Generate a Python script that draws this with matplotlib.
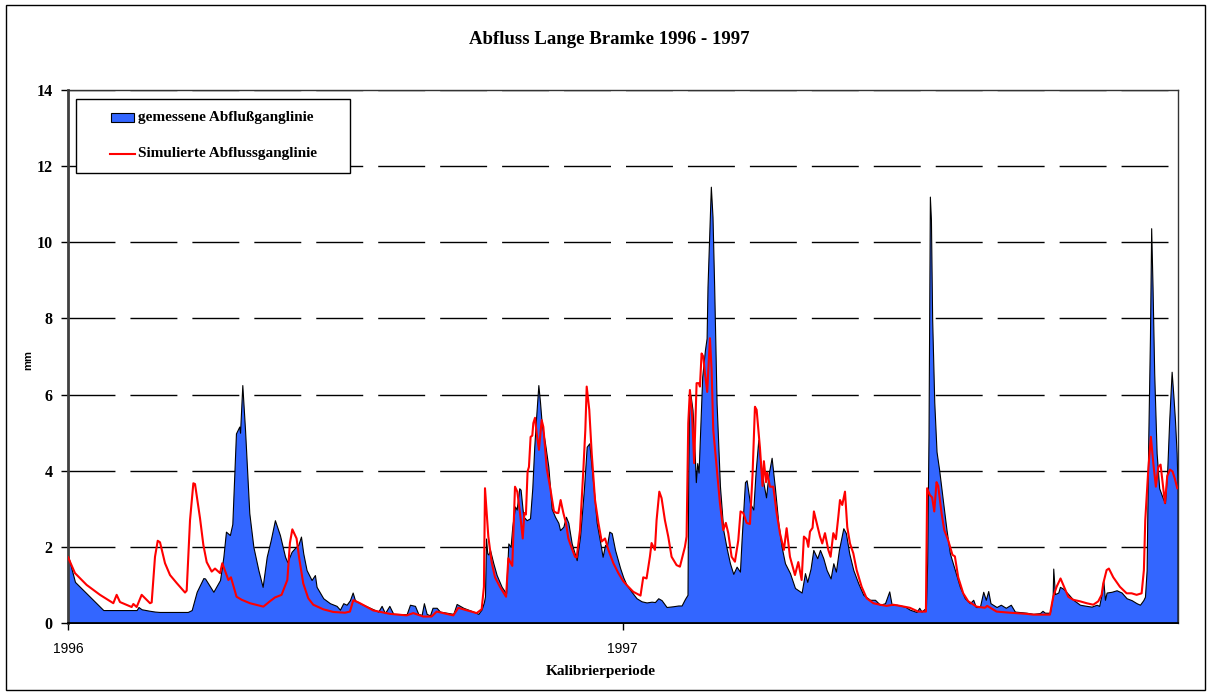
import numpy as np
import matplotlib.pyplot as plt
from matplotlib.patches import Rectangle
from matplotlib.lines import Line2D

# Tageswerte ab 1.1.1996 (Tag, Abfluss in mm)
gemessen = [
    (0, 1.78), (4.6, 1.08), (23.3, 0.34), (45.3, 0.34), (46.5, 0.42), (48.6, 0.36),
    (54.1, 0.32), (57.4, 0.30), (60.5, 0.29), (79.0, 0.29), (81.6, 0.34), (84.9, 0.82),
    (89.3, 1.18), (90.4, 1.17), (95.9, 0.82), (100.3, 1.13), (102.5, 1.74), (104.2, 2.40),
    (106.8, 2.31), (108.4, 2.6), (110.8, 4.98), (113.0, 5.16), (113.5, 5.0), (115.0, 6.25),
    (116.8, 5.07), (119.6, 2.89), (122.3, 2.0), (125.6, 1.39), (128.4, 0.95), (131.1, 1.74),
    (133.7, 2.17), (136.5, 2.7), (139.8, 2.31), (143.2, 1.74), (144.7, 1.6), (147.5, 1.87),
    (149.7, 1.97), (151.9, 2.05), (153.7, 2.27), (155.2, 1.83), (157.4, 1.39), (160.7, 1.13),
    (162.9, 1.26), (164.0, 0.95), (168.4, 0.65), (172.8, 0.52), (177.2, 0.45), (179.4, 0.35),
    (181.6, 0.52), (183.8, 0.48), (186.0, 0.6), (187.8, 0.8), (189.3, 0.6), (192.6, 0.52),
    (199.2, 0.4), (204.7, 0.3), (206.9, 0.45), (209.1, 0.26), (212.0, 0.45), (214.6, 0.24),
    (223.4, 0.23), (225.6, 0.48), (228.9, 0.45), (231.1, 0.24), (233.3, 0.21), (234.8, 0.52),
    (236.6, 0.24), (238.8, 0.2), (240.5, 0.4), (243.2, 0.4), (245.4, 0.3), (254.2, 0.24),
    (256.4, 0.5), (260.8, 0.4), (267.4, 0.3), (270.7, 0.24), (272.9, 0.36), (274.4, 0.55),
    (275.1, 0.7), (275.8, 2.22), (276.6, 1.83), (277.3, 1.8), (278.4, 1.92), (280.6, 1.57),
    (282.8, 1.26), (286.1, 0.95), (289.0, 0.78), (290.5, 2.09), (292.0, 2.0), (293.1, 2.53),
    (294.9, 3.06), (296.0, 2.98), (297.7, 3.54), (298.6, 3.5), (300.4, 2.79), (301.5, 2.75),
    (302.6, 2.7), (304.8, 2.75), (306.3, 3.54), (307.6, 4.63), (308.7, 5.33), (310.3, 6.25),
    (311.4, 5.8), (312.5, 5.25), (314.7, 4.72), (316.9, 4.1), (319.1, 3.0), (321.3, 2.79),
    (323.5, 2.63), (324.6, 2.44), (326.8, 2.53), (328.5, 2.79), (330.1, 2.63), (332.3, 2.09),
    (335.6, 1.65), (337.8, 2.27), (340.4, 3.54), (342.2, 4.63), (343.9, 4.72), (346.6, 3.62),
    (348.8, 2.63), (351.0, 2.14), (352.7, 1.74), (354.3, 2.05), (355.4, 2.0), (357.1, 2.4),
    (358.7, 2.36), (360.9, 1.92), (364.2, 1.45), (366.3, 1.2), (368.5, 1.0), (371.8, 0.82),
    (375.1, 0.65), (378.4, 0.57), (381.7, 0.54), (385.0, 0.56), (387.2, 0.55), (389.4, 0.65),
    (391.6, 0.6), (394.9, 0.42), (399.3, 0.44), (402.6, 0.46), (404.8, 0.46), (407.0, 0.63),
    (408.7, 0.74), (409.2, 4.03), (409.8, 5.77), (410.7, 5.99), (412.0, 5.6), (413.6, 4.3),
    (414.2, 3.7), (415.1, 4.2), (416.0, 3.95), (416.9, 4.89), (418.4, 6.47), (420.2, 7.17),
    (421.3, 7.48), (421.9, 8.83), (423.0, 10.15), (424.1, 11.46), (425.2, 10.67), (426.3, 8.83),
    (427.9, 5.77), (430.1, 3.6), (432.3, 2.44), (434.5, 1.97), (436.7, 1.57), (438.9, 1.29),
    (441.1, 1.48), (443.3, 1.35), (444.4, 2.2), (446.6, 3.7), (447.7, 3.75), (449.9, 3.15),
    (452.1, 2.98), (453.6, 3.95), (455.4, 4.81), (457.0, 4.1), (458.7, 3.7), (460.5, 3.3),
    (462.0, 3.86), (464.2, 4.34), (466.4, 3.54), (468.6, 2.63), (470.8, 2.0), (473.0, 1.57),
    (476.3, 1.31), (479.6, 0.92), (484.0, 0.8), (486.2, 1.31), (487.7, 1.08), (489.9, 1.43),
    (491.7, 1.92), (494.3, 1.7), (496.1, 1.92), (498.3, 1.7), (500.5, 1.39), (503.1, 1.17),
    (504.9, 1.57), (506.6, 1.35), (508.6, 1.92), (511.5, 2.49), (513.2, 2.36), (515.4, 1.83),
    (518.1, 1.39), (521.4, 1.04), (524.7, 0.74), (529.1, 0.61), (532.4, 0.61), (535.7, 0.48),
    (539.0, 0.52), (541.8, 0.83), (543.4, 0.48), (546.7, 0.48), (552.2, 0.43), (555.4, 0.35),
    (559.8, 0.29), (561.6, 0.4), (563.1, 0.3), (566.0, 0.4), (566.8, 1.57), (567.7, 4.89),
    (568.6, 11.2), (569.3, 10.6), (570.1, 8.0), (571.5, 5.8), (573.0, 4.5), (574.7, 4.03),
    (577.4, 3.15), (579.6, 2.44), (581.8, 1.83), (585.1, 1.39), (588.4, 0.95), (591.7, 0.65),
    (595.0, 0.52), (597.2, 0.61), (598.9, 0.42), (601.6, 0.42), (603.8, 0.82), (605.5, 0.61),
    (607.1, 0.84), (608.6, 0.52), (612.6, 0.42), (615.4, 0.48), (618.7, 0.4), (622.0, 0.48),
    (624.7, 0.3), (632.4, 0.27), (636.8, 0.24), (641.2, 0.26), (642.9, 0.32), (644.5, 0.27),
    (647.8, 0.27), (649.6, 0.69), (650.0, 1.43), (651.1, 0.76), (653.3, 0.8), (654.4, 0.95),
    (656.6, 0.9), (659.9, 0.76), (663.2, 0.61), (667.6, 0.48), (672.0, 0.45), (675.3, 0.43),
    (678.6, 0.48), (680.3, 0.45), (681.9, 0.76), (683.0, 1.13), (684.1, 0.61), (685.2, 0.8),
    (688.5, 0.82), (691.8, 0.86), (695.1, 0.8), (698.4, 0.65), (701.7, 0.6), (705.0, 0.52),
    (707.2, 0.48), (709.4, 0.6), (710.5, 0.69), (711.6, 1.39), (712.7, 4.89), (713.8, 7.52),
    (714.6, 10.37), (715.5, 8.83), (716.6, 6.56), (718.2, 4.46), (719.9, 3.54), (722.1, 3.3),
    (723.7, 3.15), (725.2, 4.03), (726.5, 5.33), (728.1, 6.6), (729.2, 6.0), (730.3, 5.33),
    (731.4, 4.46), (732.0, 3.6),
]

simuliert = [
    (0, 1.73), (4.6, 1.31), (12.3, 1.0), (21.1, 0.74), (29.9, 0.52), (32.1, 0.74),
    (34.3, 0.55), (42.0, 0.42), (43.1, 0.5), (45.3, 0.42), (48.6, 0.74), (54.1, 0.52),
    (55.2, 0.54), (57.4, 1.74), (59.2, 2.16), (60.7, 2.12), (64.0, 1.57), (67.3, 1.26),
    (71.7, 1.05), (77.2, 0.8), (78.3, 0.85), (80.5, 2.7), (82.7, 3.67), (83.8, 3.65),
    (87.1, 2.75), (89.3, 2.05), (91.5, 1.6), (94.8, 1.35), (97.0, 1.43), (100.3, 1.31),
    (101.8, 1.57), (105.8, 1.13), (107.5, 1.2), (111.2, 0.69), (114.6, 0.61), (120.0, 0.52),
    (128.9, 0.43), (133.2, 0.57), (136.5, 0.67), (140.9, 0.74), (144.7, 1.13), (146.4, 2.1),
    (148.0, 2.46), (150.8, 2.22), (152.4, 1.74), (155.2, 1.04), (158.5, 0.65), (161.8, 0.48),
    (168.4, 0.36), (175.0, 0.29), (182.7, 0.27), (186.0, 0.3), (188.2, 0.6), (192.6, 0.52),
    (201.4, 0.33), (212.4, 0.24), (223.4, 0.2), (227.8, 0.26), (234.4, 0.17), (239.9, 0.17),
    (243.2, 0.3), (254.2, 0.2), (257.5, 0.4), (260.8, 0.36), (269.6, 0.26), (272.9, 0.36),
    (274.4, 0.95), (275.1, 3.54), (277.3, 2.27), (279.5, 1.6), (281.7, 1.2), (285.0, 0.95),
    (289.0, 0.69), (290.5, 1.7), (293.1, 1.5), (294.9, 3.58), (296.4, 3.45), (298.2, 2.89),
    (300.0, 2.22), (301.1, 2.89), (302.1, 2.85), (303.2, 3.98), (304.1, 4.1), (305.2, 4.89),
    (306.3, 4.92), (307.0, 5.25), (308.1, 5.39), (309.2, 4.98), (310.7, 4.55), (312.5, 5.33),
    (313.6, 5.15), (315.8, 4.07), (318.0, 3.58), (320.6, 2.93), (322.4, 2.89), (323.5, 2.89),
    (325.0, 3.23), (326.8, 2.89), (328.5, 2.63), (330.1, 2.22), (332.3, 1.97), (334.5, 1.74),
    (335.6, 1.72), (337.8, 2.44), (340.0, 4.03), (341.3, 5.07), (342.2, 6.21), (343.9, 5.6),
    (345.5, 4.46), (347.7, 3.23), (349.9, 2.63), (352.1, 2.14), (354.3, 2.22), (356.5, 1.92),
    (359.8, 1.57), (363.1, 1.31), (366.3, 1.1), (368.5, 1.0), (372.9, 0.82), (377.7, 0.72),
    (379.5, 1.2), (381.7, 1.17), (383.9, 1.74), (385.0, 2.1), (387.2, 1.92), (388.3, 2.7),
    (390.1, 3.45), (391.6, 3.28), (393.8, 2.7), (396.0, 2.27), (398.2, 1.74), (401.5, 1.52),
    (403.7, 1.48), (407.0, 2.0), (408.1, 2.27), (409.2, 5.25), (410.3, 6.12), (411.8, 5.42),
    (413.1, 4.2), (414.7, 6.3), (416.2, 6.3), (416.9, 6.21), (418.0, 7.08), (419.1, 7.0),
    (420.2, 6.56), (421.7, 6.07), (423.5, 7.48), (424.6, 6.65), (425.7, 5.07), (427.9, 4.1),
    (430.1, 3.15), (432.3, 2.44), (434.0, 2.63), (435.6, 2.36), (437.8, 1.74), (440.0, 1.61),
    (442.2, 2.17), (443.7, 2.93), (445.5, 2.89), (447.7, 2.63), (449.9, 2.6), (451.6, 3.88),
    (453.2, 5.68), (454.3, 5.6), (456.5, 4.6), (458.2, 3.6), (459.1, 4.25), (460.5, 3.7),
    (461.3, 3.95), (463.1, 3.58), (465.3, 3.58), (467.5, 2.89), (469.7, 2.36), (472.3, 1.92),
    (474.1, 2.49), (476.3, 1.74), (479.6, 1.26), (481.8, 1.6), (484.0, 1.13), (485.5, 2.27),
    (487.3, 2.2), (488.4, 2.0), (489.5, 2.4), (491.2, 2.5), (492.1, 2.93), (493.9, 2.63),
    (496.1, 2.27), (497.6, 2.09), (499.4, 2.36), (501.6, 1.92), (503.1, 1.74), (504.9, 2.36),
    (506.6, 2.2), (508.2, 2.79), (509.3, 3.23), (510.8, 3.1), (512.6, 3.45), (514.1, 2.52),
    (515.9, 2.09), (518.1, 1.83), (520.3, 1.39), (523.6, 0.95), (526.9, 0.65), (531.3, 0.52),
    (535.7, 0.48), (540.1, 0.45), (544.5, 0.48), (548.9, 0.45), (555.4, 0.4), (560.9, 0.3),
    (566.0, 0.3), (566.8, 3.54), (568.6, 3.36), (570.1, 3.3), (571.5, 2.93), (573.0, 3.7),
    (574.1, 3.6), (576.3, 2.89), (578.1, 2.44), (580.7, 2.17), (583.5, 1.79), (585.1, 1.75),
    (587.3, 1.2), (590.6, 0.78), (593.9, 0.57), (599.4, 0.43), (604.9, 0.4), (606.4, 0.45),
    (612.6, 0.3), (621.4, 0.27), (632.4, 0.24), (636.8, 0.22), (647.8, 0.22), (650.0, 0.69),
    (652.2, 0.95), (654.8, 1.17), (656.6, 1.0), (659.9, 0.69), (663.2, 0.61), (667.6, 0.57),
    (672.0, 0.52), (676.4, 0.48), (679.7, 0.57), (681.9, 0.74), (683.0, 1.04), (685.2, 1.39),
    (686.7, 1.43), (689.6, 1.2), (694.0, 0.95), (698.4, 0.78), (701.7, 0.78), (705.0, 0.74),
    (708.3, 0.78), (709.8, 1.39), (710.7, 2.7), (712.7, 4.03), (714.4, 4.89), (716.0, 4.2),
    (717.7, 3.58), (719.3, 4.1), (720.8, 4.16), (722.6, 3.54), (723.7, 3.15), (725.2, 3.86),
    (727.0, 4.03), (728.7, 3.98), (730.3, 3.78), (731.8, 3.54),
]

jahr_tage = [0, 366]
jahr_namen = ["1996", "1997"]
y_ticks = [0, 2, 4, 6, 8, 10, 12, 14]

mess_tag, mess_mm = np.array(gemessen).T
sim_tag, sim_mm = np.array(simuliert).T

serif = "Liberation Serif"
sans = "Liberation Sans"
W, H = 1210, 693

fig = plt.figure(figsize=(W / 100, H / 100), dpi=100)
ax = fig.add_axes([68 / W, 70 / H, 1110 / W, 533 / H])

ax.fill_between(mess_tag, mess_mm, 0, facecolor="#3366FF", edgecolor="black",
                linewidth=0.8, zorder=2)
ax.plot(sim_tag, sim_mm, color="#FF0000", linewidth=1.5, zorder=3)

ax.set_xlim(0, 732.3)
ax.set_ylim(0, 14)
ax.set_yticks(y_ticks)
ax.set_xticks(jahr_tage, jahr_namen)

# gestrichelte Gitterlinien wie in Excel
ax.set_axisbelow(True)
ax.yaxis.grid(True, color="black", linewidth=1.0, linestyle=(0, (33.8, 10.8)))

for s in ("top", "right"):
    ax.spines[s].set_linewidth(1.0)
    ax.spines[s].set_color("#333333")
ax.spines["left"].set_linewidth(2.0)
ax.spines["left"].set_color("#404040")
ax.spines["bottom"].set_linewidth(1.3)
ax.spines["bottom"].set_color("black")

ax.tick_params(axis="y", direction="out", length=5, width=1, pad=6)
ax.tick_params(axis="x", direction="out", length=5, width=1, pad=9)
for lab in ax.get_yticklabels():
    lab.set_fontfamily(serif)
    lab.set_fontweight("bold")
    lab.set_fontsize(11.5)
for lab in ax.get_xticklabels():
    lab.set_fontfamily(sans)
    lab.set_fontsize(10)

fig.text(609 / W, 1 - 40 / H, "Abfluss Lange Bramke 1996 - 1997", ha="center", va="center",
         fontfamily=serif, fontweight="bold", fontsize=13.5)
fig.text(601 / W, 1 - 671 / H, "Kalibrierperiode", ha="center", va="center",
         fontfamily=serif, fontweight="bold", fontsize=11)
fig.text(28 / W, 1 - 360 / H, "mm", ha="center", va="center", rotation=90,
         fontfamily=sans, fontweight="bold", fontsize=8)

# Legende
def fx(px):
    return px / W

def fy(py):
    return 1 - py / H

fig.add_artist(Rectangle((fx(76), fy(173)), fx(350) - fx(76), fy(98.7) - fy(173),
                         transform=fig.transFigure, facecolor="white",
                         edgecolor="black", linewidth=1.0, zorder=5))
fig.add_artist(Rectangle((fx(110.7), fy(121.7)), fx(134) - fx(110.7), fy(112.7) - fy(121.7),
                         transform=fig.transFigure, facecolor="#3366FF",
                         edgecolor="black", linewidth=0.8, zorder=6))
fig.add_artist(Line2D([fx(110), fx(135)], [fy(154), fy(154)], transform=fig.transFigure,
                      color="#FF0000", linewidth=1.5, zorder=6))
fig.text(fx(138), fy(117), "gemessene Abflußganglinie", ha="left", va="center",
         fontfamily=serif, fontweight="bold", fontsize=11, zorder=7)
fig.text(fx(138), fy(154), "Simulierte Abflussganglinie", ha="left", va="center",
         fontfamily=serif, fontweight="bold", fontsize=11, zorder=7)

# Rahmen um das gesamte Diagramm
fig.add_artist(Rectangle((fx(6), fy(690)), fx(1205) - fx(6), fy(5) - fy(690),
                         transform=fig.transFigure, fill=False,
                         edgecolor="black", linewidth=1.0))

fig.savefig("out.png", dpi=100)
